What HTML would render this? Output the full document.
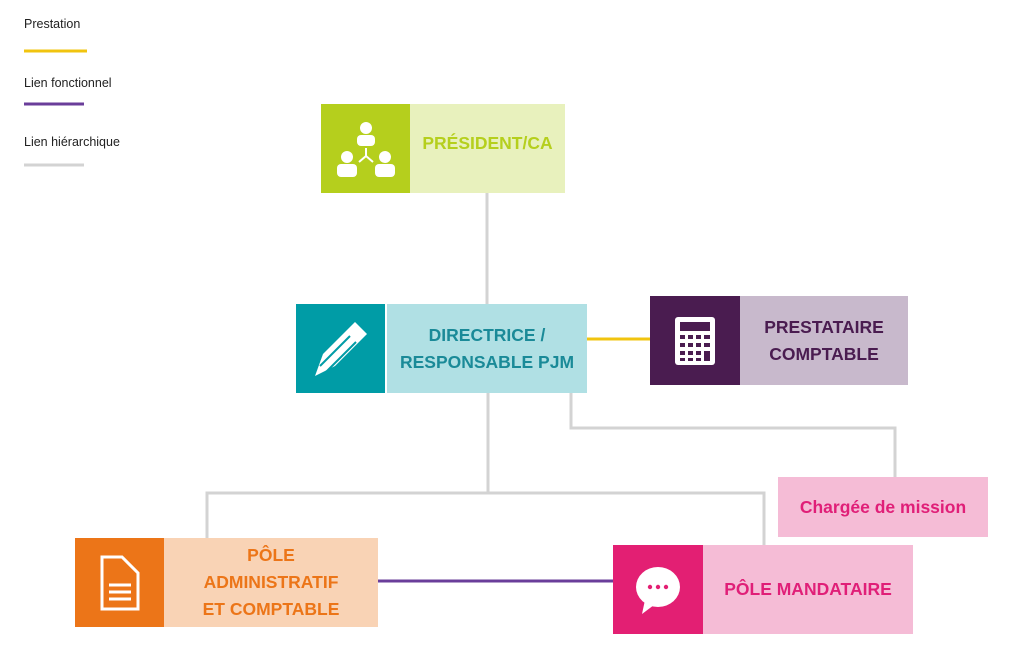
<!DOCTYPE html>
<html><head><meta charset="utf-8"><style>
body{margin:0;width:1024px;height:663px;background:#fff;position:relative;overflow:hidden;font-family:"Liberation Sans",sans-serif}
.b{position:absolute;display:flex;align-items:center;justify-content:center;text-align:center;font-weight:bold;font-size:17.5px;line-height:27px}
.lg{position:absolute;left:24px;font-size:12.5px;color:#222}
svg{position:absolute;left:0;top:0}
</style></head><body>
<div class="lg" style="top:17px">Prestation</div>
<div class="lg" style="top:76px">Lien fonctionnel</div>
<div class="lg" style="top:135px">Lien hiérarchique</div>

<svg width="1024" height="663">
<g stroke-width="3" fill="none">
<line x1="24" y1="51" x2="87" y2="51" stroke="#f1c40f"/>
<line x1="24" y1="104" x2="84" y2="104" stroke="#6a3d9a"/>
<line x1="24" y1="165" x2="84" y2="165" stroke="#d3d3d3"/>
<g stroke="#d3d3d3">
<line x1="487" y1="193" x2="487" y2="304"/>
<line x1="488" y1="393" x2="488" y2="493"/>
<polyline points="207,538 207,493 764,493 764,545"/>
<polyline points="571,393 571,428 895,428 895,477"/>
</g>
<line x1="587" y1="339" x2="650" y2="339" stroke="#f1c40f"/>
<line x1="378" y1="581" x2="613" y2="581" stroke="#6a3d9a"/>
</g>
</svg>

<div class="b" style="left:321px;top:104px;width:89px;height:89px;background:#b5cf1d"></div>
<div class="b" style="left:410px;top:104px;width:155px;height:89px;background:#e8f1bd;color:#b5cf1d;padding-bottom:10px;box-sizing:border-box">PRÉSIDENT/CA</div>

<div class="b" style="left:296px;top:304px;width:89px;height:89px;background:#009ca6"></div>
<div class="b" style="left:387px;top:304px;width:200px;height:89px;background:#b0e0e4;color:#1a8a98">DIRECTRICE /<br>RESPONSABLE PJM</div>

<div class="b" style="left:650px;top:296px;width:90px;height:89px;background:#4a1c50"></div>
<div class="b" style="left:740px;top:296px;width:168px;height:89px;background:#c8b9cc;color:#4a1c50">PRESTATAIRE<br>COMPTABLE</div>

<div class="b" style="left:778px;top:477px;width:210px;height:60px;background:#f5bcd6;color:#e01f78">Chargée de mission</div>

<div class="b" style="left:75px;top:538px;width:89px;height:89px;background:#ec7518"></div>
<div class="b" style="left:164px;top:538px;width:214px;height:89px;background:#f9d3b5;color:#ec7518">PÔLE<br>ADMINISTRATIF<br>ET COMPTABLE</div>

<div class="b" style="left:613px;top:545px;width:90px;height:89px;background:#e31f73"></div>
<div class="b" style="left:703px;top:545px;width:210px;height:89px;background:#f5bcd6;color:#e01f78">PÔLE MANDATAIRE</div>

<svg width="1024" height="663">
<g fill="#fff">
<circle cx="366" cy="128" r="6"/><rect x="357" y="135" width="18" height="11" rx="4"/>
<circle cx="347" cy="157" r="6"/><rect x="337" y="164" width="20" height="13" rx="4"/>
<circle cx="385" cy="157" r="6"/><rect x="375" y="164" width="20" height="13" rx="4"/>
<path d="M366 148v8l-7 6M366 156l7 6" stroke="#fff" stroke-width="2" fill="none"/>
<path d="M315 376l8-22 32-32 12 12-32 32z"/>
<path d="M320 366l30-30M326 372l30-30" stroke="#009ca6" stroke-width="2"/>
<rect x="675" y="317" width="40" height="48" rx="3"/>
<rect x="680" y="322" width="30" height="9" fill="#4a1c50"/>
<g fill="#4a1c50">
<rect x="680" y="335" width="5" height="4"/><rect x="688" y="335" width="5" height="4"/><rect x="696" y="335" width="5" height="4"/><rect x="704" y="335" width="6" height="4"/>
<rect x="680" y="343" width="5" height="4"/><rect x="688" y="343" width="5" height="4"/><rect x="696" y="343" width="5" height="4"/><rect x="704" y="343" width="6" height="4"/>
<rect x="680" y="351" width="5" height="4"/><rect x="688" y="351" width="5" height="4"/><rect x="696" y="351" width="5" height="4"/><rect x="704" y="351" width="6" height="10"/>
<rect x="680" y="358" width="5" height="3"/><rect x="688" y="358" width="5" height="3"/><rect x="696" y="358" width="5" height="3"/>
</g>
<path d="M102 557h20l16 16v36h-36z" fill="none" stroke="#fff" stroke-width="3"/>
<path d="M109 585h22M109 592h22M109 599h22" stroke="#fff" stroke-width="3"/>
<ellipse cx="658" cy="587" rx="22" ry="20"/>
<path d="M645 600l-3 14 12-9z"/>
<g fill="#e31f73"><circle cx="650" cy="587" r="2.2"/><circle cx="658" cy="587" r="2.2"/><circle cx="666" cy="587" r="2.2"/></g>
</g>
</svg>
</body></html>
